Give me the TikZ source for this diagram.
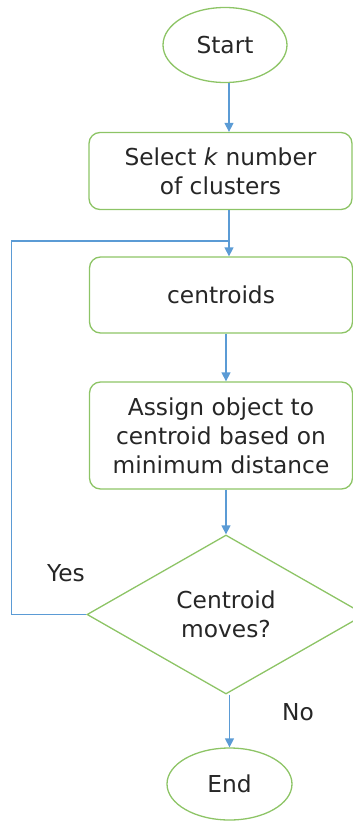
\documentclass[tikz,border=0pt]{standalone}
\usepackage{fontspec}
\setmainfont{DejaVu Sans}
\usetikzlibrary{shapes.geometric, arrows.meta}
\definecolor{boxgreen}{RGB}{141,196,102}
\definecolor{lineblue}{RGB}{91,155,213}
\definecolor{txtgray}{RGB}{38,38,38}
\begin{document}
\begin{tikzpicture}[x=1pt, y=-1pt,
    every node/.style={text=txtgray, font=\fontsize{23.3}{29}\selectfont},
    term/.style={ellipse, draw=boxgreen, line width=1.3pt, inner sep=0pt},
    proc/.style={rectangle, rounded corners=11pt, draw=boxgreen, line width=1.3pt,
        minimum width=263pt, align=center, inner sep=0pt},
    dec/.style={diamond, draw=boxgreen, line width=1.3pt, align=center, inner sep=0pt,
        minimum width=278pt, minimum height=159pt},
    flow/.style={draw=lineblue, line width=1.3pt, -{Triangle[width=9pt, length=9pt]}},
    loopline/.style={draw=lineblue, line width=1.3pt}]
    \useasboundingbox (0,0) rectangle (353,824);
    \clip (0,0) rectangle (353,824);
    % Blocos
    \node[term, minimum width=124pt, minimum height=75pt] (start) at (225,45) {Start};
    \node[proc, minimum height=77pt] (select) at (220.5,171) {Select \textit{k} number\\of clusters};
    \node[proc, minimum height=76pt] (cent) at (221,295) {centroids};
    \node[proc, minimum height=107pt] (assign) at (221,435.5) {Assign object to\\centroid based on\\minimum distance};
    \node[dec] (moves) at (226,614.5) {Centroid\\moves?};
    \node[term, minimum width=125pt, minimum height=72pt] (end) at (229.5,784) {End};
    \coordinate (join) at (229,241);
    % Setas
    \draw[flow] (start.south -| join) -- (select.north -| join);
    \draw[flow] (select.south -| join) -- (cent.north -| join);
    \draw[flow] (cent.south -| moves.north) -- (assign.north -| moves.north);
    \draw[flow] (assign.south -| moves.north) -- (moves.north);
    \draw[flow] (moves.south -| end.north) -- (end.north);
    % Retorno
    \draw[loopline] (moves.west) -- ++(-75,0) |- (join);
    \node (yes) at (66,573) {Yes};
    \node (no) at (298,712) {No};
\end{tikzpicture}
\end{document}
